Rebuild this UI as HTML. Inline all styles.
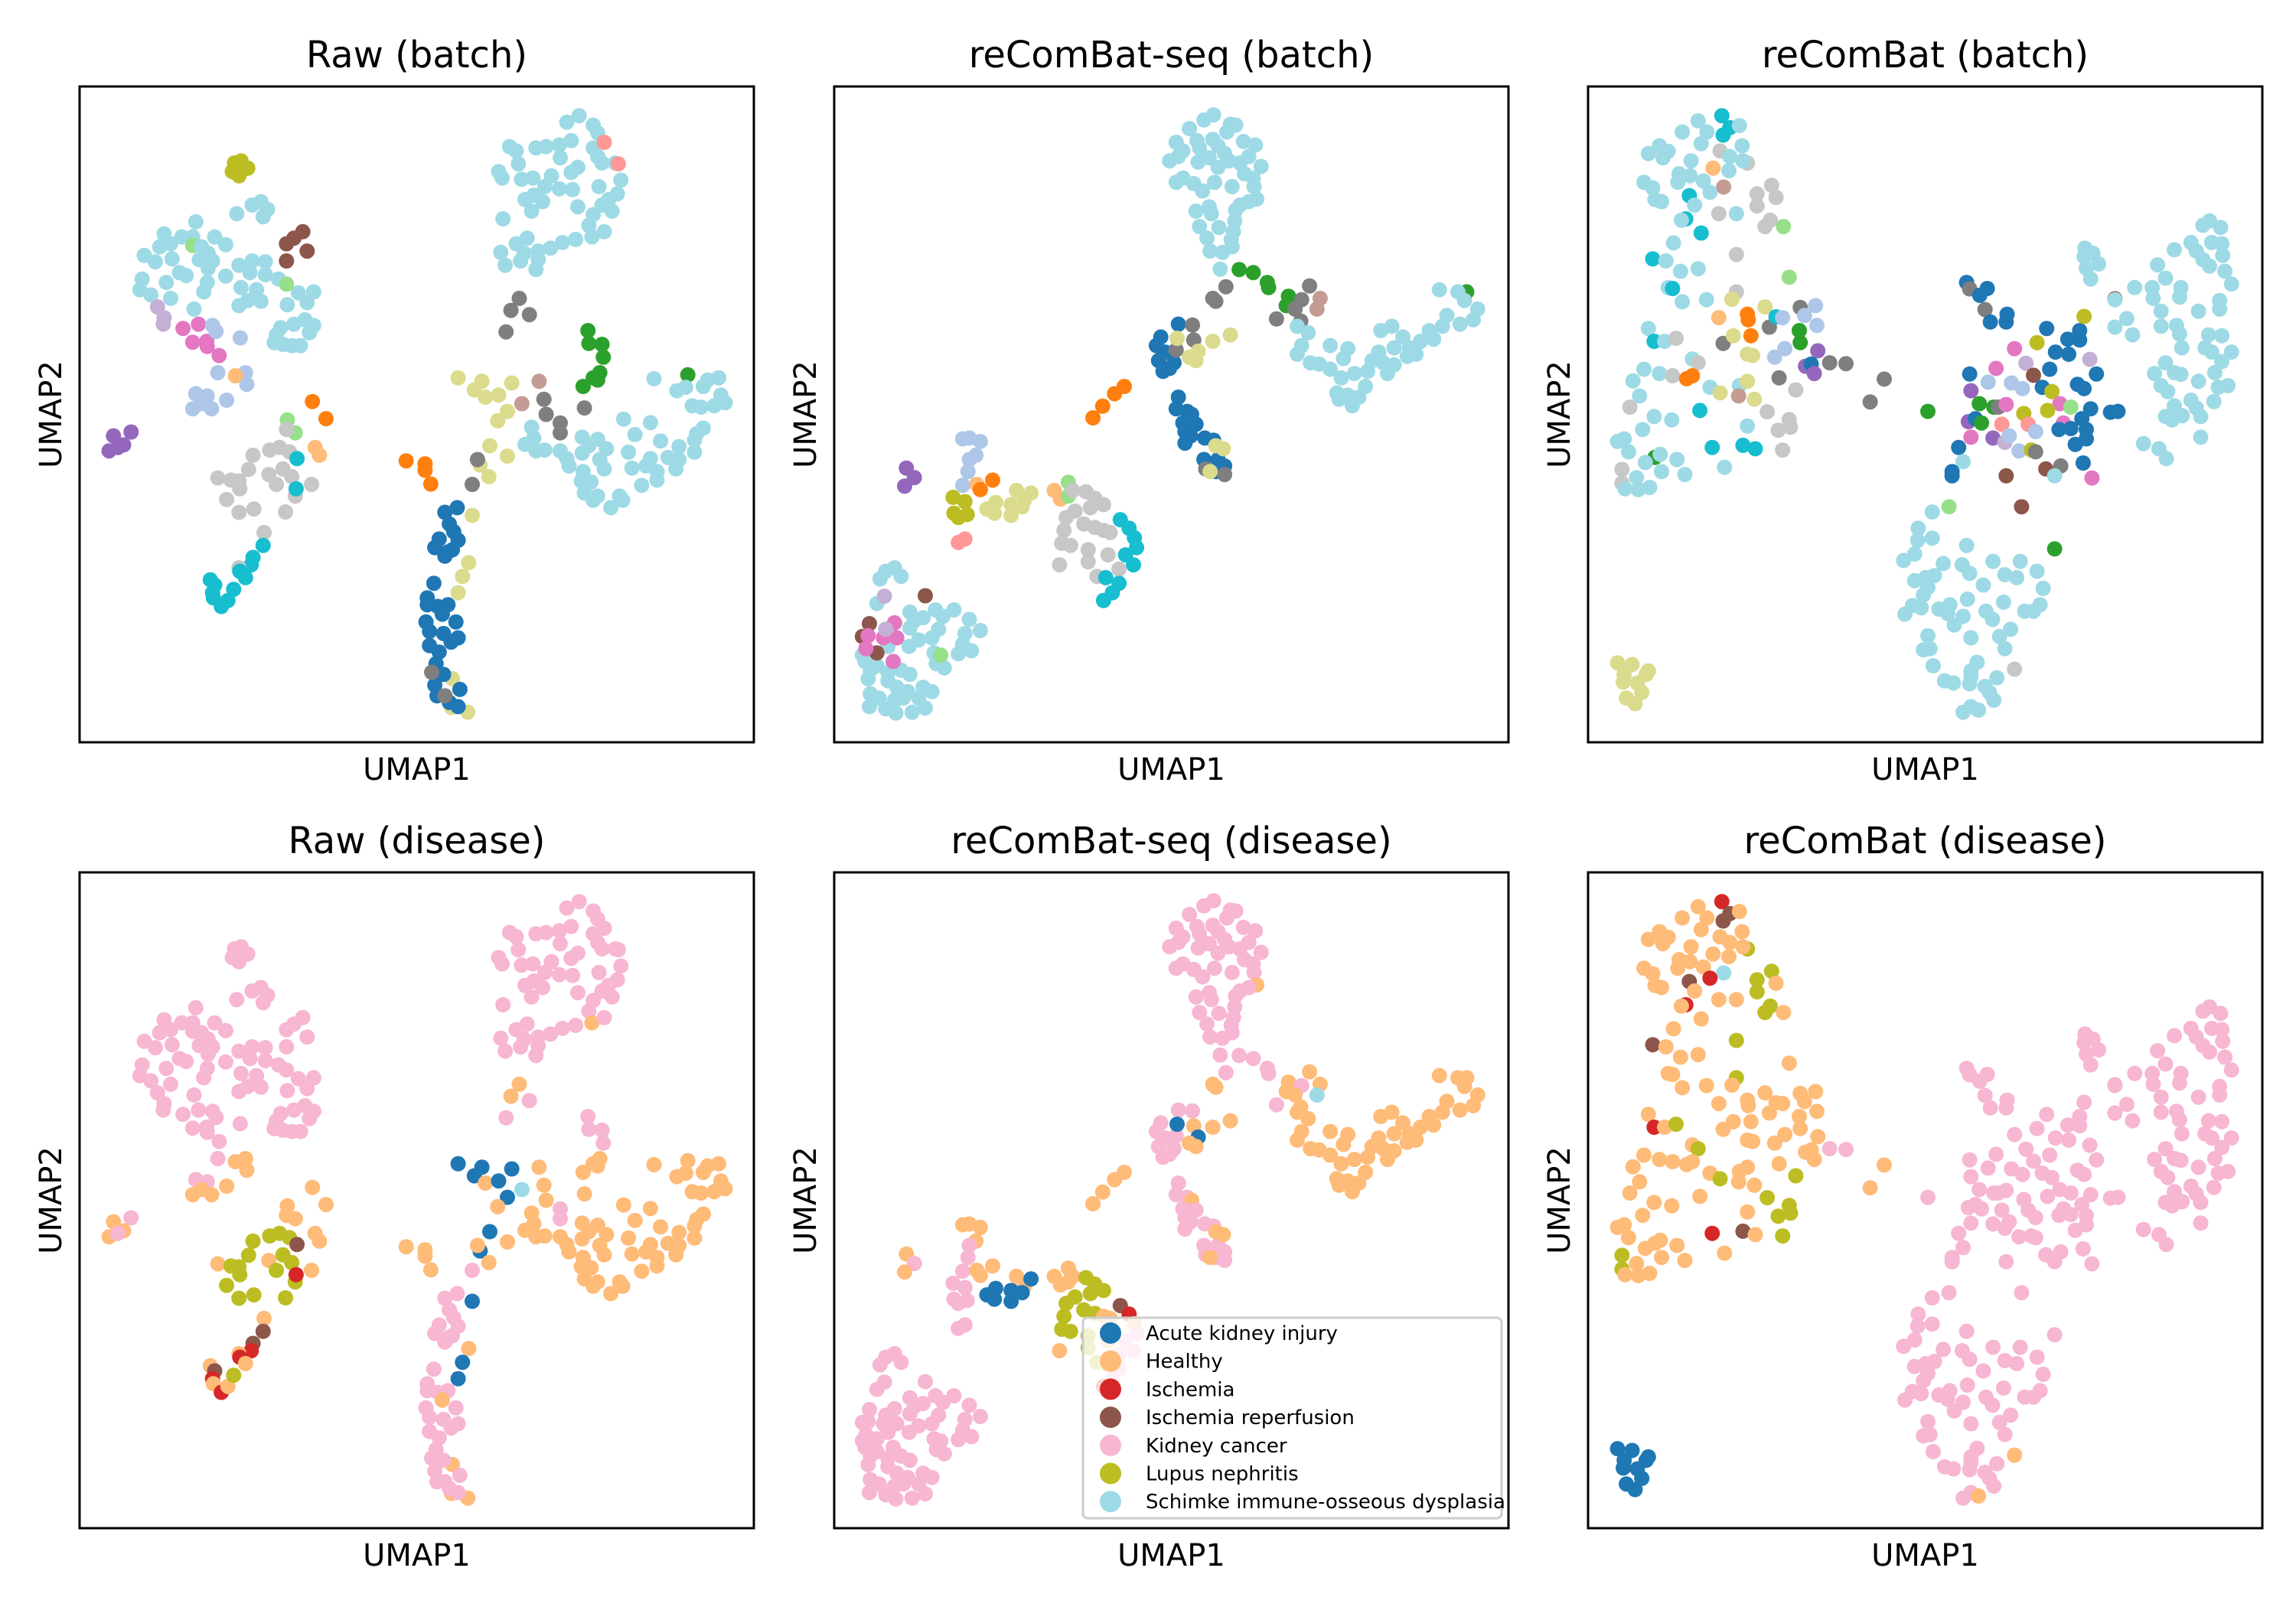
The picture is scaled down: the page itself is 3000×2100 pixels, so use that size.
<!DOCTYPE html>
<html>
<head>
<meta charset="utf-8">
<style>
html,body{margin:0;padding:0;background:#fff;}
svg{display:block;}
text{font-family:"DejaVu Sans","Liberation Sans",sans-serif;fill:#000;}
</style>
</head>
<body>
<svg id="fig" width="3000" height="2100" viewBox="0 0 3000 2100" xmlns="http://www.w3.org/2000/svg"></svg>
<script>
// ---- data (UMAP coordinates in arbitrary units; [x, y, batchIndex, diseaseIndex]) ----
const panelTitles = ["Raw (batch)","reComBat-seq (batch)","reComBat (batch)","Raw (disease)","reComBat-seq (disease)","reComBat (disease)"];
const diseaseNames = ["Acute kidney injury","Healthy","Ischemia","Ischemia reperfusion","Kidney cancer","Lupus nephritis","Schimke immune-osseous dysplasia"];
const diseaseColors = ["#1f77b4","#ffbb78","#d62728","#8c564b","#f7b6d2","#bcbd22","#9edae5"];
const batchColors = ["#1f77b4","#aec7e8","#ff7f0e","#ffbb78","#2ca02c","#98df8a","#d62728","#ff9896","#9467bd","#c5b0d5","#8c564b","#c49c94","#e377c2","#f7b6d2","#7f7f7f","#c7c7c7","#bcbd22","#dbdb8d","#17becf","#9edae5"];
const xDomain = [8,1540];
const yDomain = [22,1548];

const rawPoints = [
[360,200,16,4],[375,195,16,4],[390,212,16,4],[355,220,16,4],[370,230,16,4],[380,215,16,4],
[365,318,19,4],[400,298,19,4],[420,290,19,4],[435,308,19,4],[425,325,19,4],[272,337,19,4],[200,365,19,4],[240,372,19,4],[265,372,19,4],[315,372,19,4],[340,390,19,4],[190,395,19,4],[215,388,19,4],[155,415,19,4],[180,430,19,4],[218,423,19,4],[265,392,5,4],[285,395,19,4],[300,410,19,4],[280,425,19,4],[310,428,19,4],[300,445,19,4],[370,438,19,4],[400,428,19,4],[430,430,19,4],[395,455,19,4],[430,460,19,4],[460,470,19,4],[235,455,19,4],[250,462,19,4],[340,463,19,4],[205,478,19,4],[150,470,19,4],[145,495,19,4],[170,507,19,4],[215,515,19,4],[298,478,19,4],[290,500,19,4],[375,490,19,4],[410,495,19,4],[370,532,19,4],[390,520,19,4],[420,522,19,4],[480,530,19,4],[505,502,19,4],[540,500,19,4],[525,525,19,4],[268,540,19,4],[478,482,5,4],
[465,583,19,4],[495,575,19,4],[520,565,19,4],[540,578,19,4],[530,595,19,4],[450,618,19,4],[470,622,19,4],[490,625,19,4],[510,625,19,4],[455,600,19,4],
[478,388,10,4],[495,375,10,4],[515,360,10,4],[525,405,10,4],[478,428,10,4],
[185,535,9,4],[200,560,9,4],[198,575,9,4],
[243,585,12,4],[278,575,12,4],[265,617,12,4],[297,615,12,4],[298,627,12,4],[325,648,12,4],
[310,578,1,4],[318,592,1,4],[373,607,1,4],[322,688,1,4],[385,688,1,1],[388,715,1,1],[362,695,3,1],
[272,737,1,4],[298,742,1,4],[265,772,1,1],[285,760,1,1],[308,772,1,1],[342,752,1,1],
[85,835,8,1],[125,826,8,4],[108,856,8,1],[75,870,8,1],[95,862,8,4],
[537,755,2,1],[568,795,2,1],[480,798,5,1],[498,828,5,1],[478,820,15,1],
[440,868,15,5],[462,862,15,5],[485,872,15,5],[402,880,15,5],[392,913,15,5],[322,933,15,1],[352,938,15,5],[370,940,15,5],[372,958,15,5],[438,925,15,1],[455,948,15,5],[470,912,15,5],[490,930,15,5],[535,948,15,1],[342,983,15,5],[370,1013,15,5],[404,1005,15,5],[476,1012,15,5],[498,975,15,5],[427,1060,15,1],
[500,958,18,2],[502,888,18,3],[543,862,3,1],[553,880,3,1],
[425,1090,18,3],[402,1118,18,3],[398,1135,18,2],[370,1142,15,1],[372,1150,18,2],[385,1165,18,1],[305,1170,18,1],[315,1182,18,3],[310,1200,18,2],[312,1212,18,1],[330,1232,18,2],[345,1218,18,1],[358,1192,18,5],
[1115,105,19,4],[1143,90,19,4],[1175,112,19,4],[1185,130,19,4],[985,162,19,4],[1000,172,19,4],[1045,165,19,4],[1068,162,19,4],[1098,158,19,4],[1125,148,19,4],[1175,165,19,4],[1185,185,19,4],[1195,200,19,4],[1225,200,19,4],[1100,188,19,4],[960,220,19,4],[968,235,19,4],[1005,202,19,4],[1012,238,19,4],[1038,235,19,4],[1080,230,19,4],[1065,255,19,4],[1098,260,19,4],[1128,262,19,4],[1140,210,19,4],[1125,222,19,4],[1188,255,19,4],[1238,240,19,4],[1230,272,19,4],[1210,285,19,4],[1195,298,19,4],[1218,312,19,4],[1020,285,19,4],[1040,275,19,4],[1060,290,19,4],[1035,312,19,4],[1140,302,19,4],[970,330,19,4],[1175,320,19,4],[1165,345,19,4],[1172,372,19,1],[1200,360,19,4],[1000,388,19,4],[1025,375,19,4],[1018,410,19,4],[1050,405,19,4],[1078,398,19,4],[1105,385,19,4],[1135,378,19,4],[965,408,19,4],[975,438,19,4],[1010,428,19,4],[1045,448,19,4],[1050,425,19,4],[1200,152,7,4],[1232,202,7,4],
[1007,515,14,1],[988,543,14,1],[1030,553,14,4],[977,593,14,4],
[1163,590,4,4],[1165,620,4,4],[1195,622,4,4],[1198,652,4,4],[1190,688,4,1],[1175,700,4,1],[1152,720,4,1],[1185,705,4,1],[1390,693,4,1],
[868,700,17,0],[922,708,17,0],[990,712,17,0],[905,728,17,0],[930,745,17,1],[960,740,17,0],[980,778,17,0],[958,800,17,1],[940,858,17,0],[980,882,17,1],[918,903,17,0],[938,930,17,1],[900,1020,17,0],[892,1130,17,1],[878,1162,17,0],[868,1200,17,0],[855,1400,17,1],[853,1467,17,1],[890,1478,17,1],
[1052,708,11,1],[1013,760,11,6],
[1063,750,14,1],[1068,785,14,1],[1100,805,14,4],[1100,828,14,4],[1155,770,14,1],[912,890,14,1],[900,948,14,4],
[750,893,2,1],[793,900,2,1],[793,915,2,1],[806,947,2,1],
[1313,702,19,1],[1435,705,19,1],[1460,700,19,1],[1365,730,19,1],[1385,722,19,1],[1425,720,19,1],[1465,740,19,1],[1475,758,19,1],[1400,765,19,1],[1420,768,19,1],[1450,765,19,1],[1244,796,19,1],[1305,804,19,1],[1425,817,19,1],[1410,830,19,1],[1035,815,19,1],[1040,840,19,1],[1020,855,19,1],[1045,870,19,1],[1065,868,19,1],[1100,870,19,1],[1115,888,19,1],[1120,905,19,1],[1150,838,19,1],[1185,843,19,1],[1165,858,19,1],[1150,875,19,1],[1205,865,19,1],[1190,890,19,1],[1200,912,19,1],[1270,832,19,1],[1328,847,19,1],[1255,873,19,1],[1305,888,19,1],[1295,905,19,1],[1320,918,19,1],[1263,910,19,1],[1285,950,19,1],[1320,938,19,1],[1370,860,19,1],[1345,885,19,1],[1370,890,19,1],[1405,845,19,1],[1405,873,19,1],[1363,912,19,1],[1152,918,19,1],[1148,940,19,1],[1170,942,19,1],[1155,968,19,1],[1185,975,19,1],[1175,985,19,1],[1215,1002,19,1],[1235,975,19,1],[1242,985,19,1],
[838,1013,0,4],[866,1002,0,4],[848,1040,0,4],[858,1058,0,4],[825,1075,0,4],[868,1078,0,4],[815,1095,0,4],[845,1105,0,4],[838,1115,0,4],[855,1100,0,4],[813,1178,0,4],[798,1212,0,4],[798,1228,0,4],[822,1232,0,4],[845,1228,0,4],[832,1250,0,1],[863,1268,0,4],[795,1268,0,4],[803,1290,0,4],[835,1295,0,4],[852,1315,0,4],[868,1305,0,4],[803,1323,0,4],[825,1338,0,4],[818,1365,0,4],[835,1390,0,4],[815,1415,0,4],[820,1440,0,4],[872,1425,0,4],[848,1455,0,4],[868,1465,0,4],
[808,1385,14,4],[838,1440,14,4]
];

const seqPoints = [
[815,120,19,4],[848,100,19,4],[870,88,19,4],[908,110,19,4],[920,112,19,4],[900,128,19,4],[832,148,19,4],[868,145,19,4],[785,152,19,4],[800,172,19,4],[838,165,19,4],[880,160,19,4],[895,178,19,4],[938,150,19,4],[965,158,19,4],[770,195,19,4],[790,185,19,4],[835,198,19,4],[860,188,19,4],[880,210,19,4],[905,195,19,4],[930,200,19,4],[950,185,19,4],[978,208,19,4],[940,225,19,4],[960,235,19,4],[785,245,19,4],[800,235,19,4],[825,248,19,4],[845,265,19,4],[872,245,19,4],[912,255,19,4],[962,255,19,4],[968,284,19,1],[950,290,19,4],[930,298,19,4],[830,312,19,4],[860,302,19,4],[865,318,19,4],[920,310,19,4],[918,335,19,4],[838,348,19,4],[882,350,19,4],[915,360,19,4],[855,375,19,4],[910,378,19,4],[862,405,19,4],[890,408,19,4],[912,395,19,4],[885,447,19,4],
[928,448,4,4],[960,455,4,4],[992,478,4,4],[995,490,4,4],[1040,510,4,1],[1035,532,4,1],[1445,500,4,1],
[898,488,14,4],[868,515,14,1],[875,522,14,1],[1088,486,14,1],[1070,518,14,4],[1055,540,14,1],[1068,568,14,1],[1013,563,14,4],[1112,515,11,1],[1105,540,11,6],
[1383,495,19,1],[1425,500,19,1],[1440,520,19,1],[1470,540,19,1],[1460,565,19,1],[1430,575,19,1],[1400,555,19,1],[1390,580,19,1],[1360,590,19,1],[1370,610,19,1],[1340,615,19,1],[1315,630,19,1],[1330,645,19,1],[1310,650,19,1],[1280,630,19,1],[1300,605,19,1],[1250,590,19,1],[1275,580,19,1],[1245,640,19,1],[1230,660,19,1],[1220,685,19,1],[1255,665,19,1],[1280,670,19,1],[1265,690,19,1],[1215,720,19,1],[1190,690,19,1],[1175,632,19,1],[1165,655,19,1],[1135,625,19,1],[1135,680,19,1],[1110,668,19,1],[1090,665,19,1],[1060,645,19,1],[1070,625,19,1],[1085,595,19,1],[1060,580,19,1],[1160,700,19,1],[1150,735,19,1],[1175,740,19,1],[1200,745,19,1],[1185,765,19,1],[1155,750,19,1],
[790,575,0,4],[750,605,0,4],[740,625,0,4],[760,640,0,4],[745,660,0,4],[780,665,0,4],[755,685,0,4],[770,678,0,4],
[822,577,14,4],[825,612,14,1],[785,635,14,4],[787,608,17,0],[835,638,17,0],[815,652,17,1],[830,660,17,1],[868,615,17,1],[908,600,17,1],
[596,793,2,1],[618,766,2,1],[645,737,2,1],[667,720,2,1],
[790,745,0,4],[785,772,0,4],[810,778,0,4],[820,785,0,1],[800,805,0,4],[830,808,0,4],[805,825,0,4],[818,835,0,4],[805,852,0,4],[850,840,0,4],[870,845,0,4],[848,890,0,4],[880,890,0,4],[895,905,0,4],[875,918,0,4],[875,858,17,1],[892,865,17,1],[852,912,14,4],[895,925,14,4],[862,918,17,1],
[315,840,1,1],[340,848,1,1],[300,842,1,1],[330,880,1,1],[315,890,1,4],[312,918,1,4],[300,950,1,4],
[172,910,8,1],[190,932,8,4],[168,952,8,1],
[332,948,3,1],[368,938,2,1],[340,960,2,1],
[278,978,16,4],[305,988,16,4],[280,1015,16,4],[310,1018,16,4],[290,1025,16,4],
[355,1005,17,0],[375,990,17,0],[372,1015,17,0],[410,1020,17,0],[422,962,17,1],[440,985,17,1],[455,968,17,0],[435,1000,17,0],[410,995,17,0],
[290,1083,7,4],[305,1075,7,4],
[508,962,3,1],[522,982,3,1],[540,943,5,1],[540,975,5,1],
[550,962,15,1],[580,965,15,5],[600,980,15,5],[620,995,15,5],[590,1002,15,5],[555,1010,15,5],[535,1025,15,5],[575,1040,15,5],[600,1048,15,5],[620,1055,15,1],[635,1060,15,1],[530,1055,15,5],[525,1085,15,5],[545,1090,15,5],[585,1100,15,5],[630,1112,15,1],[520,1135,15,1],[585,1128,15,5],[605,1162,15,5],[655,1145,15,4],
[658,1030,18,3],[678,1050,18,2],[690,1072,18,1],[695,1095,18,4],[670,1112,18,4],[688,1135,18,4],[625,1165,18,1],[655,1178,18,4],[640,1200,18,4],[620,1218,18,2],
[112,1168,19,4],[125,1150,19,4],[145,1142,19,4],[160,1162,19,4],[105,1225,19,4],[180,1245,19,4],[190,1265,19,4],[210,1258,19,4],[238,1240,19,4],[255,1255,19,4],[280,1240,19,4],[315,1262,19,4],[340,1288,19,4],[305,1295,19,4],[245,1285,19,4],[230,1305,19,4],[200,1310,19,4],[180,1282,19,4],[130,1325,19,4],[300,1320,19,4],[320,1335,19,4],[290,1342,19,4],[235,1340,19,4],[240,1365,19,4],[258,1375,19,4],[178,1325,19,4],[72,1345,19,4],[78,1360,19,4],[90,1380,19,4],[105,1370,19,4],[130,1385,19,4],[160,1380,19,4],[180,1390,19,4],[85,1400,19,4],[130,1405,19,4],[150,1420,19,4],[175,1430,19,4],[210,1420,19,4],[230,1430,19,4],[90,1435,19,4],[110,1445,19,4],[145,1450,19,4],[165,1445,19,4],[200,1445,19,4],[88,1465,19,4],[125,1470,19,4],[148,1480,19,4],[185,1478,19,4],[215,1468,19,4],
[88,1272,10,4],[72,1302,10,4],[215,1207,10,4],[105,1340,10,4],
[145,1270,12,4],[85,1300,12,4],[120,1305,12,4],[150,1305,12,4],[80,1330,12,4],[142,1360,12,4],
[122,1208,9,4],[125,1285,9,4],[250,1345,5,4]
];

const rcbPoints = [
[312,90,18,2],[330,118,18,3],[315,135,18,3],[352,113,19,1],[258,102,19,1],[222,128,19,1],[278,128,19,1],[170,160,19,1],[145,178,19,1],[190,173,19,1],[178,188,19,1],[265,155,19,1],[308,172,15,1],[358,160,19,1],[330,185,19,1],[242,195,19,1],[370,200,15,5],[360,195,19,1],[292,212,3,1],[328,218,19,1],[215,225,19,1],[240,230,19,1],[135,245,19,1],[155,258,19,1],[212,245,19,1],[270,242,19,1],[316,256,11,6],[238,276,18,3],[285,268,19,2],[250,298,19,1],[160,285,19,1],[175,290,19,1],[392,272,15,5],[425,252,15,5],[435,280,15,1],[392,300,15,5],[305,318,15,1],[345,318,19,1],[230,330,18,2],[220,333,19,1],[265,363,18,1],[410,348,15,5],[422,333,15,5],[452,348,5,1],[202,386,19,1],[345,413,15,5],[155,423,18,3],[185,428,19,1],[218,452,19,1],[258,446,19,1],[465,466,5,1],[190,490,19,1],[200,492,18,1],[345,500,15,5],[222,523,19,1],[277,518,19,1],[335,517,17,1],[410,535,17,1],[490,536,14,1],[525,532,1,1],[305,560,3,1],[370,552,2,1],[372,565,2,1],[420,582,14,1],[435,558,18,1],[450,560,1,1],[500,555,1,1],[528,578,1,1],[488,590,4,1],[145,585,19,1],[158,615,18,2],[182,615,19,1],[208,608,15,5],[315,620,14,1],[338,602,17,1],[378,602,2,1],[490,618,4,1],[370,645,17,1],[382,648,17,1],[432,652,1,1],[455,632,1,1],[530,637,8,1],[245,656,19,1],[258,665,15,5],[135,680,19,1],[170,690,19,1],[200,695,15,1],[232,702,2,1],[245,695,2,1],[442,700,14,1],[502,673,8,1],[515,668,0,1],[522,690,8,1],[557,665,14,4],[594,667,14,4],[110,707,19,1],[125,742,19,1],[285,722,19,1],[308,735,17,5],[352,718,19,1],[370,708,17,1],[350,742,11,1],[386,750,17,1],[480,728,15,5],[103,768,15,1],[262,776,18,1],[158,790,19,1],[198,798,19,1],[415,779,15,5],[465,797,15,5],[440,822,15,5],[468,815,15,5],[132,820,19,1],[370,812,19,1],[75,848,19,1],[90,842,19,1],[100,872,19,1],[290,862,18,2],[360,857,18,3],[388,865,18,1],[450,868,15,5],[160,885,4,1],[172,878,19,1],[138,897,19,1],[210,890,19,1],[85,913,15,5],[85,945,15,5],[118,932,19,1],[175,918,19,1],[228,925,19,1],[318,908,19,1],[92,958,19,1],[122,960,19,1],[148,955,19,1],
[649,756,14,1],[681,703,14,1],[780,778,4,4],
[868,478,0,4],[875,493,14,4],[898,508,0,4],[915,492,0,4],[910,541,14,4],[960,552,0,4],[958,570,0,4],[922,570,0,4],[1050,585,0,4],[1125,590,0,4],[1098,610,0,4],[1125,612,0,4],[1135,557,16,4],[1028,618,16,4],[977,632,12,4],[1070,640,0,4],[1100,645,0,4],[1148,657,9,4],[1003,666,9,4],[1057,680,0,4],[1163,691,0,4],[935,678,12,4],[875,691,0,4],[1020,694,10,4],[917,710,1,4],[970,712,1,4],[995,725,1,4],[1040,722,0,4],[1062,732,16,4],[1120,715,0,4],[1135,725,0,4],[878,730,8,4],[897,760,4,4],[930,768,4,4],[940,768,14,4],[958,762,12,4],[1080,760,12,4],[1105,768,5,4],[998,783,16,4],[1052,776,16,4],[1150,772,0,4],[872,802,8,4],[888,795,0,4],[902,805,4,4],[948,808,7,4],[1008,808,7,4],[1088,805,12,4],[1130,795,0,4],[1078,820,0,4],[1105,818,0,4],[1025,825,1,4],[1140,820,0,4],[878,838,12,4],[928,840,8,4],[955,850,9,4],[965,835,1,4],[1140,842,0,4],[1115,855,0,4],[850,862,0,4],[987,870,1,4],[1015,868,16,4],[1025,872,14,4],[860,895,19,4],[835,918,0,4],[835,928,0,4],[958,928,10,4],[1048,912,10,4],[1082,905,14,4],[1068,928,19,4],[1133,898,0,4],[1153,933,12,4],[1195,780,0,4],[1212,778,0,4],[1205,516,10,4],[993,1000,10,4],[828,1000,5,4],[1068,1098,4,4],
[1137,398,19,4],[1135,418,19,4],[1155,410,19,4],[1168,435,19,4],[1140,445,19,4],[1150,470,19,4],[1405,345,19,4],[1420,335,19,4],[1445,350,19,4],[1378,385,19,4],[1425,385,19,4],[1448,388,19,4],[1340,402,19,4],[1390,405,19,4],[1405,425,19,4],[1450,415,19,4],[1420,440,19,4],[1302,437,19,4],[1455,452,19,4],[1320,468,19,4],[1470,482,19,4],[1250,490,19,4],[1290,490,19,4],[1355,490,19,4],[1352,512,19,4],[1292,515,19,4],[1443,520,19,4],[1443,540,19,4],[1310,545,19,4],[1395,545,19,4],[1205,518,19,4],[1232,562,19,4],[1205,582,19,4],[1245,600,19,4],[1310,580,19,4],[1345,578,19,4],[1352,598,19,4],[1418,600,19,4],[1448,602,19,4],[1357,630,19,4],[1410,630,19,4],[1470,640,19,4],[1425,640,19,4],[1448,662,19,4],[1320,665,19,4],[1295,690,19,4],[1340,688,19,4],[1355,692,19,4],[1432,688,19,4],[1310,718,19,4],[1325,732,19,4],[1395,708,19,4],[1440,722,19,4],[1462,718,19,4],[1378,752,19,4],[1430,755,19,4],[1340,765,19,4],[1390,770,19,4],[1400,790,19,4],[1320,790,19,4],[1335,798,19,4],[1358,788,19,4],[1400,838,19,4],[1270,853,19,4],[1305,865,19,4],[1322,888,19,4],
[790,1012,19,4],[758,1050,19,4],[790,1073,19,4],[757,1078,19,4],[750,1110,19,4],[725,1125,19,4],[868,1090,19,4],[815,1132,19,4],[858,1135,19,4],[875,1155,19,4],[928,1127,19,4],[990,1127,19,4],[1028,1150,19,4],[955,1158,19,4],[982,1165,19,4],[750,1172,19,4],[775,1165,19,4],[795,1160,19,4],[780,1188,19,4],[906,1182,19,4],[1042,1190,19,4],[770,1205,19,4],[870,1215,19,4],[952,1222,19,4],[1035,1228,19,4],[745,1230,19,4],[765,1235,19,4],[805,1238,19,4],[830,1228,19,4],[825,1248,19,4],[860,1255,19,4],[912,1243,19,4],[1000,1243,19,4],[1020,1243,19,4],[728,1250,19,4],[840,1275,19,4],[927,1262,19,4],[968,1285,19,4],[780,1300,19,4],[878,1305,19,4],[943,1302,19,4],[955,1330,19,4],[770,1333,19,4],[785,1330,19,4],[792,1370,19,4],[892,1362,19,4],[878,1382,19,4],[977,1378,15,1],[818,1405,19,4],[838,1410,19,4],[878,1395,19,4],[875,1412,19,4],[937,1398,19,4],[910,1418,19,4],[920,1432,19,4],[930,1450,19,4],[860,1478,19,4],[878,1465,19,4],[895,1473,19,1],
[75,1363,17,0],[108,1367,17,0],[145,1382,17,0],[140,1390,17,0],[90,1390,17,0],[88,1408,17,0],[120,1410,17,0],[130,1432,17,0],[95,1445,17,0],[115,1458,17,0]
];

// ---- layout ----
const SVGNS = "http://www.w3.org/2000/svg";
const svg = document.getElementById("fig");
const panelLefts = [104, 1090, 2075];
const rowTops = [113, 1140];
const PW = 881, PH = 857, R = 10;

function mk(tag, attrs, parent){
  const e = document.createElementNS(SVGNS, tag);
  for (const k in attrs) e.setAttribute(k, attrs[k]);
  (parent||svg).appendChild(e);
  return e;
}
function xScale(v, left){ return left + (v - xDomain[0]) / (xDomain[1]-xDomain[0]) * PW; }
function yScale(v, top){ return top + (v - yDomain[0]) / (yDomain[1]-yDomain[0]) * PH; }

const datasets = [rawPoints, seqPoints, rcbPoints];
const keys = ["raw","recombat-seq","recombat"];

for (let row = 0; row < 2; row++){
  for (let col = 0; col < 3; col++){
    const left = panelLefts[col], top = rowTops[row];
    const g = mk("g", {});
    
    
    const clipId = "clip"+row+col;
    const cp = mk("clipPath", {id: clipId}, g);
    mk("rect", {x:left, y:top, width:PW, height:PH}, cp);
    const pts = mk("g", {"clip-path":"url(#"+clipId+")"}, g);
    
    
    datasets[col].forEach(p => {
      const c = mk("circle", {cx: xScale(p[0], left).toFixed(1), cy: yScale(p[1], top).toFixed(1), r: R,
        fill: row===0 ? batchColors[p[2]] : diseaseColors[p[3]]}, pts);
      
      
    });
    const frame = mk("rect", {x:left, y:top, width:PW, height:PH, fill:"none", stroke:"#000", "stroke-width":3}, g);
    
    
    const t = mk("text", {x:left+PW/2, y:top-25, "text-anchor":"middle", "font-size":48}, g);
    t.textContent = panelTitles[row*3+col];
    
    
    const xl = mk("text", {x:left+PW/2, y:top+PH+49, "text-anchor":"middle", "font-size":40}, g);
    xl.textContent = "UMAP1";
    
    
    const yx = left-24, yy = top+PH/2;
    const yl = mk("text", {x:yx, y:yy, "text-anchor":"middle", "font-size":40, transform:"rotate(-90 "+yx+" "+yy+")"}, g);
    yl.textContent = "UMAP2";
    
    
  }
}

// ---- legend (in reComBat-seq disease panel) ----
const lg = mk("g", {});


mk("rect", {x:1415, y:1722, width:547, height:262, rx:6, ry:6, fill:"#ffffff", "fill-opacity":0.8, stroke:"#cccccc", "stroke-width":3}, lg);
diseaseNames.forEach((name, i) => {
  const cy = 1742 + i*36.7;
  const e = mk("g", {}, lg);
  
  
  mk("circle", {cx:1451, cy:cy, r:14, fill:diseaseColors[i]}, e);
  const tx = mk("text", {x:1497, y:cy+9, "font-size":26}, e);
  tx.textContent = name;
});
</script>
</body>
</html>
